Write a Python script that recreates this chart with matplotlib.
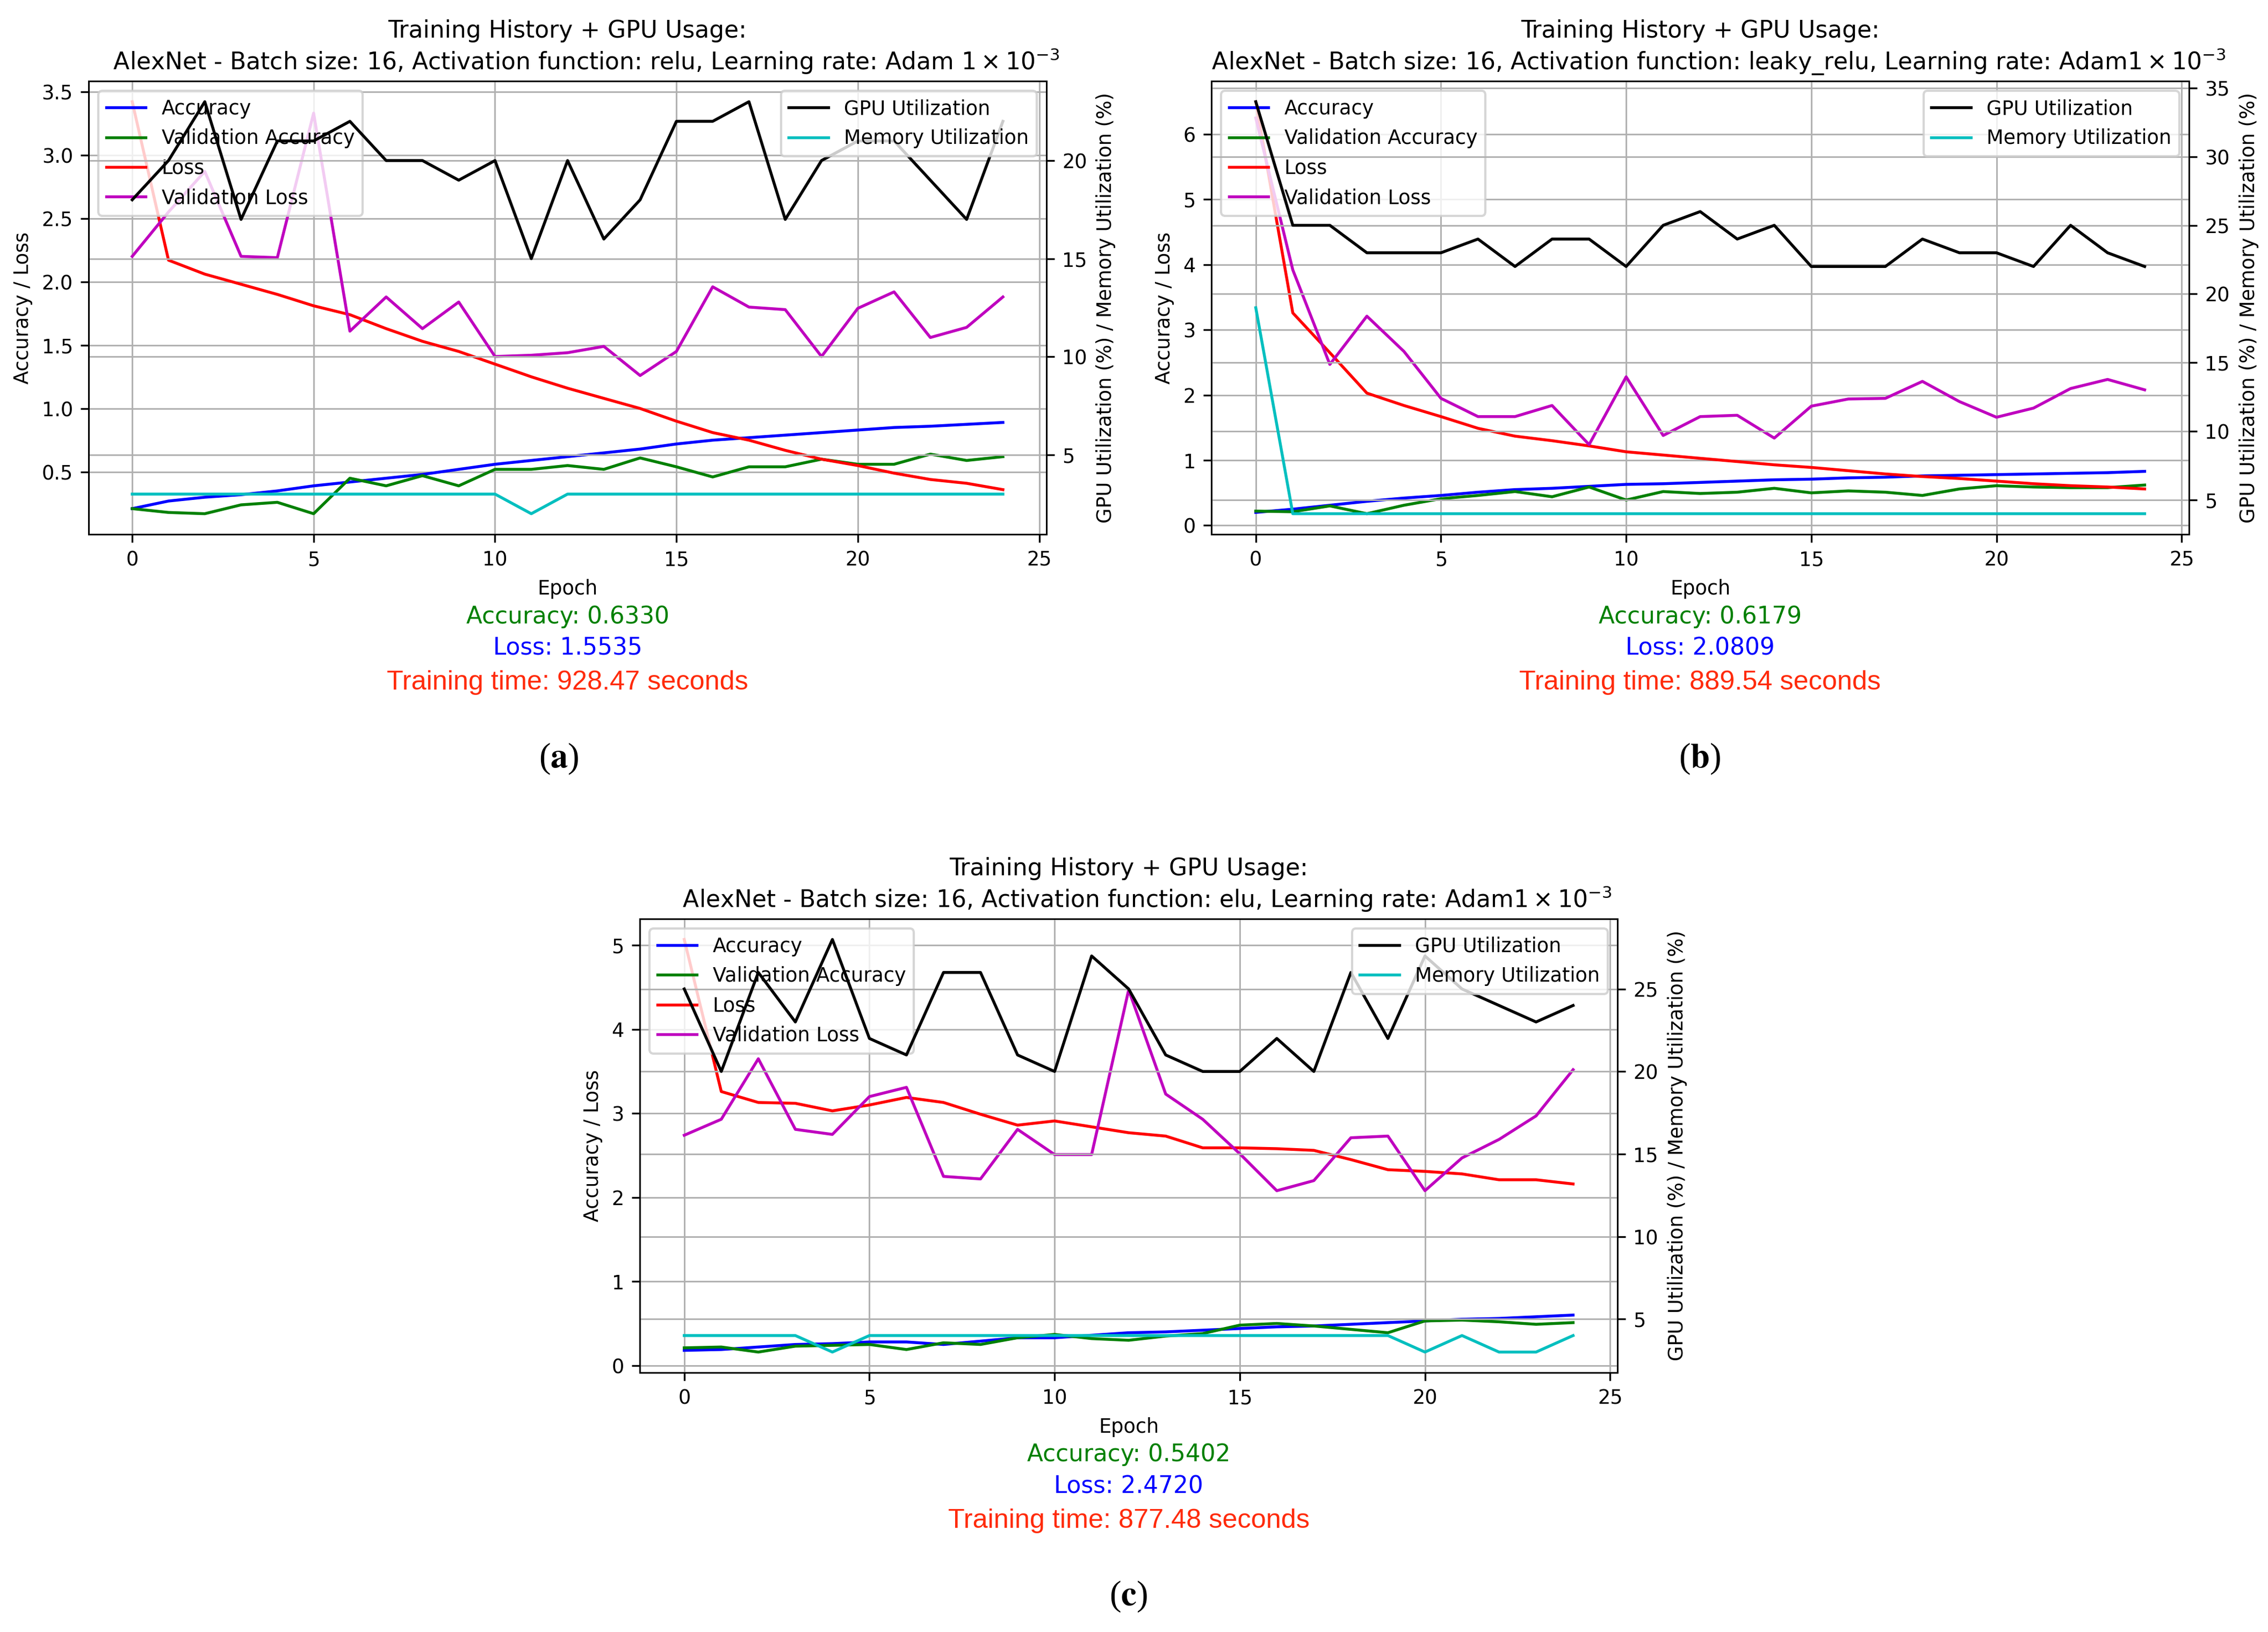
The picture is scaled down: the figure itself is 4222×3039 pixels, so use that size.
import numpy as np
import matplotlib.pyplot as plt

plt.rcParams['font.size'] = 8.8
plt.rcParams['lines.linewidth'] = 1.3
plt.rcParams['axes.linewidth'] = 0.7
plt.rcParams['grid.linewidth'] = 0.7
plt.rcParams['mathtext.fontset'] = 'dejavusans'

epochs = np.arange(25)

# (a) relu
acc_a = [0.21, 0.27, 0.30, 0.32, 0.35, 0.39, 0.42, 0.45, 0.48, 0.52, 0.56, 0.59, 0.62, 0.65, 0.68,
         0.72, 0.75, 0.77, 0.79, 0.81, 0.83, 0.85, 0.86, 0.875, 0.89]
val_acc_a = [0.21, 0.18, 0.17, 0.24, 0.26, 0.17, 0.45, 0.39, 0.47, 0.39, 0.52, 0.52, 0.55, 0.52, 0.61,
             0.54, 0.46, 0.54, 0.54, 0.60, 0.56, 0.56, 0.64, 0.59, 0.62]
loss_a = [3.42, 2.17, 2.06, 1.98, 1.90, 1.81, 1.74, 1.63, 1.53, 1.45, 1.35, 1.25, 1.16, 1.08, 1.00,
          0.90, 0.81, 0.75, 0.67, 0.60, 0.55, 0.49, 0.44, 0.41, 0.36]
val_loss_a = [2.20, 2.55, 2.87, 2.20, 2.19, 3.33, 1.61, 1.88, 1.63, 1.84, 1.41, 1.42, 1.44, 1.49, 1.26,
              1.45, 1.96, 1.80, 1.78, 1.41, 1.79, 1.92, 1.56, 1.64, 1.88]
gpu_a = [18, 20, 23, 17, 21, 21, 22, 20, 20, 19, 20, 15, 20, 16, 18, 22, 22, 23, 17, 20, 21, 21, 19, 17, 22]
mem_a = [3, 3, 3, 3, 3, 3, 3, 3, 3, 3, 3, 2, 3, 3, 3, 3, 3, 3, 3, 3, 3, 3, 3, 3, 3]

# (b) leaky_relu
acc_b = [0.20, 0.25, 0.31, 0.37, 0.42, 0.46, 0.51, 0.55, 0.57, 0.60, 0.63, 0.64, 0.66, 0.68, 0.70,
         0.71, 0.73, 0.74, 0.76, 0.77, 0.78, 0.79, 0.80, 0.81, 0.83]
val_acc_b = [0.22, 0.21, 0.30, 0.18, 0.31, 0.41, 0.46, 0.52, 0.44, 0.59, 0.39, 0.52, 0.49, 0.51, 0.57,
             0.50, 0.53, 0.51, 0.46, 0.56, 0.61, 0.59, 0.58, 0.58, 0.62]
loss_b = [6.50, 3.26, 2.65, 2.03, 1.84, 1.67, 1.49, 1.37, 1.30, 1.22, 1.13, 1.08, 1.03, 0.98, 0.93,
          0.89, 0.84, 0.79, 0.75, 0.72, 0.68, 0.64, 0.61, 0.59, 0.56]
val_loss_b = [6.25, 3.92, 2.47, 3.21, 2.67, 1.95, 1.67, 1.67, 1.84, 1.24, 2.28, 1.38, 1.67, 1.69, 1.34,
              1.83, 1.94, 1.95, 2.21, 1.90, 1.66, 1.80, 2.10, 2.24, 2.08]
gpu_b = [34, 25, 25, 23, 23, 23, 24, 22, 24, 24, 22, 25, 26, 24, 25, 22, 22, 22, 24, 23, 23, 22, 25, 23, 22]
mem_b = [19, 4, 4, 4, 4, 4, 4, 4, 4, 4, 4, 4, 4, 4, 4, 4, 4, 4, 4, 4, 4, 4, 4, 4, 4]

# (c) elu
acc_c = [0.18, 0.19, 0.22, 0.25, 0.26, 0.28, 0.28, 0.25, 0.29, 0.33, 0.33, 0.36, 0.39, 0.40, 0.42,
         0.44, 0.46, 0.47, 0.49, 0.51, 0.53, 0.55, 0.56, 0.58, 0.60]
val_acc_c = [0.21, 0.22, 0.16, 0.23, 0.24, 0.25, 0.19, 0.27, 0.25, 0.33, 0.37, 0.32, 0.30, 0.35, 0.38,
             0.48, 0.50, 0.47, 0.43, 0.39, 0.53, 0.54, 0.52, 0.49, 0.51]
loss_c = [5.07, 3.26, 3.13, 3.12, 3.03, 3.10, 3.19, 3.13, 2.99, 2.86, 2.91, 2.84, 2.77, 2.73, 2.59,
          2.59, 2.58, 2.56, 2.45, 2.33, 2.31, 2.28, 2.21, 2.21, 2.16]
val_loss_c = [2.74, 2.93, 3.65, 2.81, 2.75, 3.20, 3.31, 2.25, 2.22, 2.81, 2.51, 2.51, 4.47, 3.23, 2.93,
              2.52, 2.08, 2.20, 2.71, 2.73, 2.08, 2.47, 2.69, 2.97, 3.52]
gpu_c = [25, 20, 26, 23, 28, 22, 21, 26, 26, 21, 20, 27, 25, 21, 20, 20, 22, 20, 26, 22, 27, 25, 24, 23, 24]
mem_c = [4, 4, 4, 4, 3, 4, 4, 4, 4, 4, 4, 4, 4, 4, 4, 4, 4, 4, 4, 4, 3, 4, 3, 3, 4]

fig = plt.figure(figsize=(4222 / 300, 3039 / 300), dpi=300)


def draw_panel(rect, act, adam, acc, val_acc, loss, val_loss, gpu, mem,
               final_acc, final_loss, train_time, tag, tag_x, text_y):
    ax1 = fig.add_axes(rect)
    ax1.plot(epochs, acc, 'b', label='Accuracy')
    ax1.plot(epochs, val_acc, 'g', label='Validation Accuracy')
    ax1.plot(epochs, loss, 'r', label='Loss')
    ax1.plot(epochs, val_loss, 'm', label='Validation Loss')
    ax1.set_xlabel('Epoch')
    ax1.set_ylabel('Accuracy / Loss')
    ax1.grid(True)
    ax1.legend(loc='upper left')
    # second title line sits a little right of centre in the original
    ax1.set_title('Training History + GPU Usage:\n     AlexNet - Batch size: 16, Activation function: '
                  + act + ', Learning rate: ' + adam + r'$1\times10^{-3}$', pad=5)

    ax2 = ax1.twinx()
    ax2.plot(epochs, gpu, 'k', label='GPU Utilization')
    ax2.plot(epochs, mem, 'c', label='Memory Utilization')
    ax2.set_ylabel('GPU Utilization (%) / Memory Utilization (%)')
    ax2.grid(True)
    ax2.legend(loc='upper right')

    # summary lines under the plot
    cx = rect[0] + rect[2] / 2
    fig.text(cx, text_y, 'Accuracy: ' + final_acc, color='green', fontsize=10.5,
             ha='center', va='center')
    fig.text(cx, text_y - 0.0194, 'Loss: ' + final_loss, color='blue', fontsize=10.5,
             ha='center', va='center')
    fig.text(cx, text_y - 0.0405, 'Training time: ' + train_time + ' seconds', color='#ff2a0a',
             fontsize=12.1, family='Liberation Sans', ha='center', va='center')
    fig.text(tag_x, text_y - 0.087, '(' + r'$\mathbf{' + tag + '}$' + ')', fontsize=15.5,
             family='Liberation Serif', math_fontfamily='stix', ha='center', va='center')


draw_panel([0.0391, 0.6726, 0.4223, 0.2777], 'relu', 'Adam ', acc_a, val_acc_a, loss_a, val_loss_a,
           gpu_a, mem_a, '0.6330', '1.5535', '928.47', 'a', 0.2463, 0.6222)
draw_panel([0.5341, 0.6726, 0.4311, 0.2777], 'leaky_relu', 'Adam', acc_b, val_acc_b, loss_b, val_loss_b,
           gpu_b, mem_b, '0.6179', '2.0809', '889.54', 'b', 0.7495, 0.6222)
draw_panel([0.2821, 0.1589, 0.4311, 0.2781], 'elu', 'Adam', acc_c, val_acc_c, loss_c, val_loss_c,
           gpu_c, mem_c, '0.5402', '2.4720', '877.48', 'c', 0.4975, 0.1086)

fig.savefig('out.png', dpi=300)
